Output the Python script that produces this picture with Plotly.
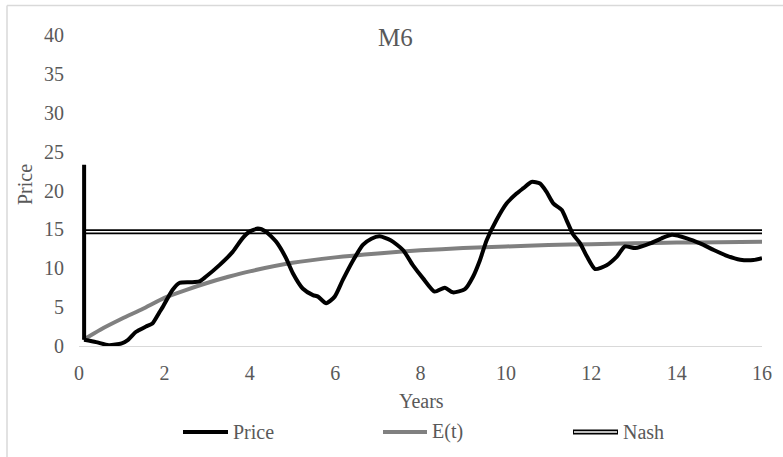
import plotly.graph_objects as go

# ---- data ----
price_t = [0.12, 0.12, 0.4, 0.7, 1.0, 1.15, 1.33, 1.57, 1.72, 1.88, 1.96, 2.19, 2.35, 2.6, 2.82,
           2.97, 3.29, 3.6, 3.83, 3.99, 4.19, 4.38, 4.62, 4.85, 5.01, 5.24, 5.48, 5.6, 5.79,
           5.99, 6.18, 6.42, 6.65, 6.85, 7.04, 7.3, 7.59, 7.82, 8.06, 8.33, 8.57, 8.76, 9.04,
           9.23, 9.39, 9.55, 9.78, 10.02, 10.25, 10.41, 10.6, 10.8, 10.95, 11.11, 11.31, 11.42,
           11.58, 11.74, 11.9, 12.09, 12.36, 12.6, 12.79, 13.03, 13.38, 13.65, 13.89, 14.24,
           14.55, 14.87, 15.18, 15.49, 15.8, 16.0]
price_v = [23.3, 0.8, 0.5, 0.1, 0.35, 0.8, 1.8, 2.5, 2.9, 4.3, 5.0, 7.2, 8.1, 8.2, 8.3,
           8.9, 10.4, 12.1, 13.85, 14.7, 15.1, 14.7, 13.4, 11.3, 9.35, 7.4, 6.55, 6.35, 5.5,
           6.35, 8.5, 11.0, 13.0, 13.8, 14.1, 13.6, 12.35, 10.4, 8.7, 7.0, 7.5, 6.9, 7.3,
           8.9, 11.0, 13.6, 16.2, 18.35, 19.6, 20.3, 21.1, 20.9, 19.85, 18.35, 17.5, 16.2,
           14.3, 13.2, 11.5, 9.9, 10.4, 11.5, 12.8, 12.6, 13.2, 13.85, 14.3, 13.85,
           13.2, 12.35, 11.6, 11.1, 11.06, 11.3]

e_t = [0.1, 0.5, 1, 1.5, 2, 2.5, 3, 3.5, 4, 5, 6, 7, 8, 9, 10, 11, 12, 13, 14, 15, 16]
e_v = [0.8, 2.1, 3.5, 4.8, 6.2, 7.2, 8.1, 8.9, 9.6, 10.7, 11.4, 11.9, 12.3, 12.6, 12.8,
       13.0, 13.1, 13.2, 13.3, 13.35, 13.4]

nash_t = [0.1, 16]
nash_v = [14.7, 14.7]

x_ticks = [0, 2, 4, 6, 8, 10, 12, 14, 16]
y_ticks = [0, 5, 10, 15, 20, 25, 30, 35, 40]

FONT = "Liberation Serif"
TXT = "#595959"

fig = go.Figure()
fig.add_trace(go.Scatter(x=nash_t, y=nash_v, mode="lines", name="Nash",
                         line=dict(color="black", width=5), showlegend=False))
fig.add_trace(go.Scatter(x=nash_t, y=nash_v, mode="lines", name="Nash",
                         line=dict(color="white", width=1.6), showlegend=False))
fig.add_trace(go.Scatter(x=e_t, y=e_v, mode="lines", name="E(t)",
                         line=dict(color="#808080", width=4, shape="spline", smoothing=0.6),
                         showlegend=False))
# initial drop drawn straight, remaining path smoothed
fig.add_trace(go.Scatter(x=price_t[:2], y=price_v[:2], mode="lines", name="Price",
                         line=dict(color="black", width=4), showlegend=False))
fig.add_trace(go.Scatter(x=price_t[1:], y=price_v[1:], mode="lines", name="Price",
                         line=dict(color="black", width=4, shape="spline", smoothing=0.6),
                         showlegend=False))

L, R, T, B = 79, 762, 35, 346
W, H = 783, 457


def px(x):
    return (x - L) / (R - L)


def py(y):
    return (B - y) / (B - T)


shapes = []
# chart border (top & left visible)
shapes.append(dict(type="line", xref="paper", yref="paper", x0=px(7), x1=px(790),
                   y0=py(5.5), y1=py(5.5), line=dict(color="#d9d9d9", width=1.5)))
shapes.append(dict(type="line", xref="paper", yref="paper", x0=px(7), x1=px(7),
                   y0=py(5.5), y1=py(470), line=dict(color="#d9d9d9", width=1.5)))

ly = py(432)
legend_items = [("Price", 183, 228, "black", 4, None),
                ("E(t)", 383, 427, "#808080", 4, None),
                ("Nash", 573, 618, "black", 5, "white")]
annotations = []
for name, a, b, col, w, inner in legend_items:
    shapes.append(dict(type="line", xref="paper", yref="paper", x0=px(a), x1=px(b),
                       y0=ly, y1=ly, line=dict(color=col, width=w)))
    if inner:
        shapes.append(dict(type="line", xref="paper", yref="paper", x0=px(a + 1), x1=px(b - 1),
                           y0=ly, y1=ly, line=dict(color=inner, width=1.6)))
    annotations.append(dict(text=name, xref="paper", yref="paper", x=px(b + 3), y=ly,
                            xanchor="left", yanchor="middle", showarrow=False,
                            font=dict(family=FONT, size=20, color=TXT)))

annotations.append(dict(text="M6", xref="paper", yref="paper", x=px(395), y=py(37),
                        xanchor="center", yanchor="middle", showarrow=False,
                        font=dict(family=FONT, size=25, color=TXT)))
annotations.append(dict(text="Years", xref="paper", yref="paper", x=px(421), y=py(401),
                        xanchor="center", yanchor="middle", showarrow=False,
                        font=dict(family=FONT, size=20, color=TXT)))
annotations.append(dict(text="Price", xref="paper", yref="paper", x=px(25), y=py(185),
                        xanchor="center", yanchor="middle", showarrow=False, textangle=-90,
                        font=dict(family=FONT, size=20, color=TXT)))

fig.update_layout(
    width=W, height=H,
    margin=dict(l=L, r=W - R, t=T, b=H - B, pad=0),
    paper_bgcolor="white", plot_bgcolor="white",
    font=dict(family=FONT, size=20, color=TXT),
    shapes=shapes, annotations=annotations,
    showlegend=False,
)
fig.update_xaxes(range=[0, 16], tickvals=x_ticks, ticktext=[str(v) for v in x_ticks],
                 showgrid=False, zeroline=False, showline=True, linecolor="#d9d9d9",
                 linewidth=1, ticks="", ticklabelstandoff=9,
                 tickfont=dict(family=FONT, size=20, color=TXT))
fig.update_yaxes(range=[0, 40], tickvals=y_ticks, ticktext=[str(v) for v in y_ticks],
                 showgrid=False, zeroline=False, showline=False, ticks="",
                 ticklabelstandoff=14,
                 tickfont=dict(family=FONT, size=20, color=TXT))

fig.write_html("out.html", config={"displayModeBar": False},
               post_script="document.body.style.margin='0';document.body.style.padding='0';")
